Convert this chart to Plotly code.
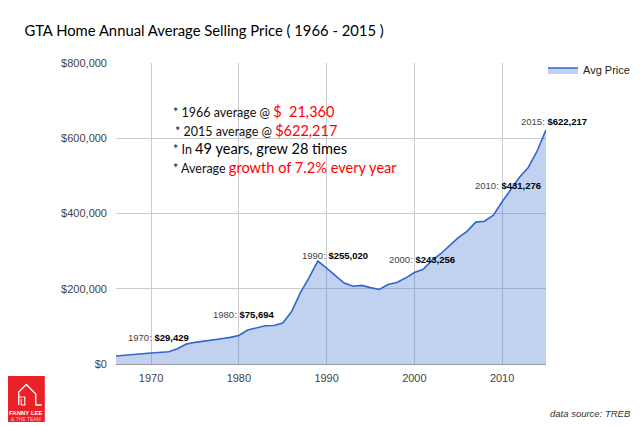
import plotly.graph_objects as go

# GTA average selling price, 1966 - 2015 (TREB)
years = list(range(1966, 2016))
avg_price = [
    21360, 22837, 24851, 27083, 29429, 30426, 32513, 40605, 52806, 57581,
    61389, 64559, 67333, 70830, 75694, 90203, 95496, 101626, 102318, 109094,
    138925, 189105, 229635, 273698, 255020, 234313, 214971, 206490, 208921, 203028,
    198150, 211307, 216815, 228372, 243256, 251508, 275231, 293067, 315231, 335907,
    352388, 377029, 379347, 395460, 431276, 465014, 497130, 522958, 566726, 622217,
]
label_years = [1970, 1980, 1990, 2000, 2010, 2015]
x_ticks = [1970, 1980, 1990, 2000, 2010]
y_ticks = [0, 200000, 400000, 600000, 800000]
y_tick_text = ["$0", "$200,000", "$400,000", "$600,000", "$800,000"]

# label offsets (px) relative to the point
label_shift = {1970: (7, 8), 1980: (5, 14), 1990: (8, 5), 2000: (8, 5), 2010: (6, 9), 2015: (8, 1)}

# the page puts the figure 8px in from the top-left corner
OFF = 8
W_EFF = 640 - 2 * OFF
W, H = W_EFF + 15, 426 - OFF
L, R, T, B = 116, 545, 63, 364   # plot area in window pixels


def px_x(px):
    return (px - L) / (R - L)


def px_y(py):
    return (B - py) / (B - T)


fig = go.Figure()
fig.add_trace(go.Scatter(
    x=years, y=avg_price, name="Avg Price", mode="lines",
    line=dict(color="#3366cc", width=1.6),
    fill="tozeroy", fillcolor="rgba(51,102,204,0.3)",
    hoverinfo="x+y",
))

annotations = []
for yr in label_years:
    v = avg_price[years.index(yr)]
    dx, dy = label_shift[yr]
    annotations.append(dict(
        x=yr, y=v, xref="x", yref="y", showarrow=False,
        text=f"<span style='color:#444'>{yr}:</span> <b>${v:,}</b>",
        font=dict(family="Liberation Sans, Arial", size=9.5, color="#000"),
        xanchor="center", yanchor="bottom", xshift=dx, yshift=dy,
    ))

# note box
red = "#ff0000"
nb = "\u00a0"
note_lines = [
    (171, 112, f"* 1966 average @ <span style='color:{red};font-size:14.5px'>${nb}{nb}21,360</span>"),
    (173, 130, f"* 2015 average @ <span style='color:{red};font-size:14.5px'>$622,217</span>"),
    (171, 148, "* In <span style='font-size:14.6px;color:#000'>49 years, grew 28 times</span>"),
    (171, 167, f"* Average <span style='color:{red};font-size:14.6px'>growth of 7.2% every year</span>"),
]
for px, py, txt in note_lines:
    annotations.append(dict(
        x=px_x(px), y=px_y(py), xref="paper", yref="paper", showarrow=False,
        text=txt, xanchor="left", yanchor="middle",
        font=dict(family="Lato", size=12.5, color="#111"),
    ))

annotations.append(dict(
    x=px_x(632), y=px_y(413), xref="paper", yref="paper", showarrow=False,
    text="<i>data source: TREB</i>", xanchor="right", yanchor="middle",
    font=dict(family="Liberation Sans, Arial", size=9.5, color="#333"),
))

# logo (kept inside the figure, which starts 8px in)
LX = 26.5
annotations.append(dict(
    x=px_x(LX), y=px_y(413), xref="paper", yref="paper", showarrow=False,
    text="<b>FANNY LEE</b>", xanchor="center", yanchor="middle",
    font=dict(family="Liberation Sans, Arial", size=6, color="#ffffff"),
))
annotations.append(dict(
    x=px_x(LX), y=px_y(419), xref="paper", yref="paper", showarrow=False,
    text="& THE TEAM", xanchor="center", yanchor="middle",
    font=dict(family="Liberation Sans, Arial", size=5, color="#f9c4c4"),
))


def path(points):
    return "M " + " L ".join(f"{px_x(a):.4f},{px_y(b):.4f}" for a, b in points)


shapes = [
    dict(type="rect", xref="paper", yref="paper",
         x0=px_x(8), x1=px_x(45), y0=px_y(422), y1=px_y(376),
         fillcolor="#ec2128", line=dict(width=0), layer="above"),
    dict(type="path", xref="paper", yref="paper",
         path=path([(19, 405), (19, 392), (26.5, 384.5), (36, 394), (36, 405), (42, 405)]),
         line=dict(color="#ffffff", width=1.3), layer="above"),
    dict(type="path", xref="paper", yref="paper",
         path=path([(19, 397), (25, 397), (25, 405), (21.5, 405), (21.5, 399)]),
         line=dict(color="#ffffff", width=1.1), layer="above"),
]

fig.update_layout(
    width=W, height=H, autosize=False,
    margin=dict(l=L - OFF, r=(640 - OFF) - R, t=T - OFF, b=H - (B - OFF), pad=0),
    paper_bgcolor="#ffffff", plot_bgcolor="#ffffff",
    title=dict(
        text="GTA Home Annual Average Selling Price ( 1966 - 2015 )",
        x=(24 - OFF) / W_EFF, xanchor="left", xref="container",
        y=1 - (31 - OFF) / H, yanchor="middle", yref="container",
        font=dict(family="Lato", size=14.8, color="#000"),
    ),
    xaxis=dict(
        range=[1966, 2015], tickvals=x_ticks, showgrid=True,
        gridcolor="#cccccc", gridwidth=1, zeroline=False, showline=False,
        ticks="", ticklabelstandoff=6,
        tickfont=dict(family="Liberation Sans, Arial", size=11, color="#444"),
    ),
    yaxis=dict(
        range=[0, 800000], tickvals=y_ticks, ticktext=y_tick_text,
        showgrid=True, gridcolor="#cccccc", gridwidth=1,
        zeroline=True, zerolinecolor="#999999", zerolinewidth=1,
        ticks="", ticklabelstandoff=8,
        tickfont=dict(family="Liberation Sans, Arial", size=11, color="#444"),
    ),
    showlegend=True,
    legend=dict(
        x=0.993, y=1.025, xanchor="left", yanchor="top", itemwidth=30,
        font=dict(family="Liberation Sans, Arial", size=11, color="#222"),
        bgcolor="rgba(0,0,0,0)",
    ),
    annotations=annotations,
    shapes=shapes,
)

fig.write_html("out.html")
